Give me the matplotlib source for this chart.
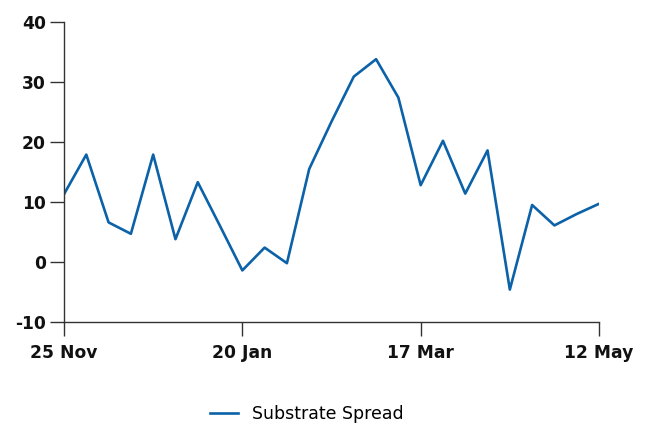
import matplotlib
matplotlib.use("Agg")
import matplotlib.pyplot as plt
import matplotlib.dates as mdates
import pandas as pd

# weekly readings, 25 Nov 2018 .. 12 May 2019
start_date = "2018-11-25"
spread = [11.3, 17.9, 6.6, 4.7, 17.9, 3.8, 13.3, 6.0, -1.4, 2.4, -0.2, 15.5,
          23.4, 30.9, 33.8, 27.4, 12.8, 20.2, 11.4, 18.6, -4.6, 9.5, 6.1, 8.0, 9.7]
dates = pd.date_range(start_date, periods=len(spread), freq="7D")
tick_dates = pd.to_datetime(["2018-11-25", "2019-01-20", "2019-03-17", "2019-05-12"])
y_ticks = [-10, 0, 10, 20, 30, 40]
series_name = "Substrate Spread"

plt.rcParams['font.family'] = ['DejaVu Sans']
plt.rcParams['axes.unicode_minus'] = False

fig = plt.figure(figsize=(6.53, 4.29), dpi=100)
ax = fig.add_axes([64 / 653, 1 - 322 / 429, 535 / 653, 300 / 429])

ax.plot(dates, spread, color='#0b62a8', linewidth=1.9, label=series_name)

ax.set_xlim(tick_dates[0], tick_dates[-1])
ax.set_ylim(-10, 40)
ax.set_xticks(tick_dates)
ax.xaxis.set_major_formatter(mdates.DateFormatter('%d %b'))
ax.set_yticks(y_ticks)

for s in ['top', 'right']:
    ax.spines[s].set_visible(False)
for s in ['left', 'bottom']:
    ax.spines[s].set_color('#333333')
    ax.spines[s].set_linewidth(1.0)

ax.tick_params(axis='both', length=10, width=1.0, color='#333333',
               labelsize=12.3, labelcolor='#111111')
ax.tick_params(axis='y', pad=3)
ax.tick_params(axis='x', pad=6)
for lbl in ax.get_xticklabels() + ax.get_yticklabels():
    lbl.set_fontweight('bold')

fig.legend(loc='center', bbox_to_anchor=(307 / 653, 1 - 414 / 429), frameon=False,
           fontsize=12.5, handlelength=1.6, handletextpad=0.8)

fig.savefig('out.png', dpi=100)
